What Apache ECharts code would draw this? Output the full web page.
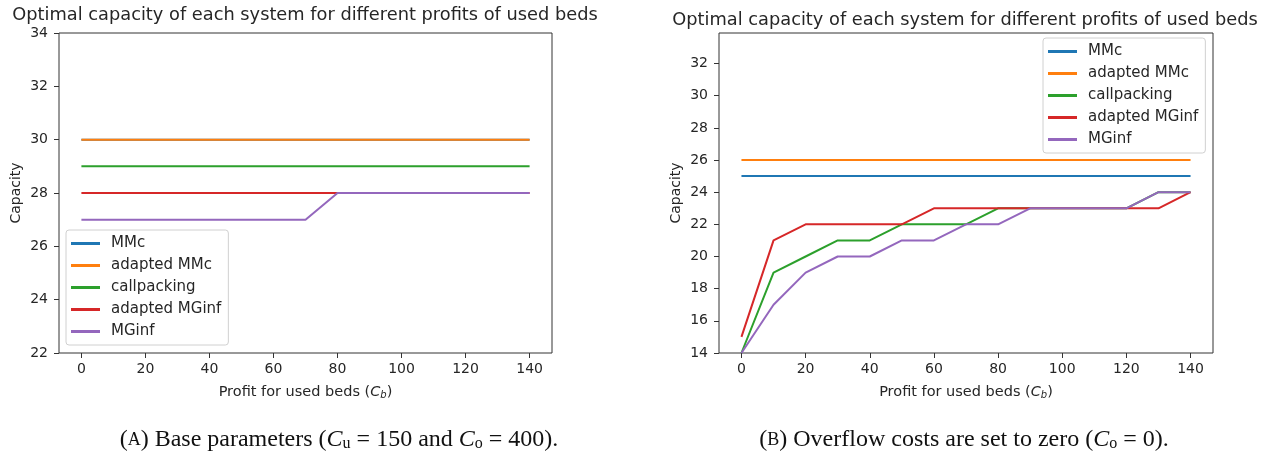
<!DOCTYPE html>
<html>
<head>
<meta charset="utf-8">
<script src="https://cdn.jsdelivr.net/npm/echarts@6/dist/echarts.min.js"></script>
<style>
  html, body { margin: 0; padding: 0; background: #fff; }
  #chart { width: 1277px; height: 457px; }
</style>
</head>
<body>
<div id="chart"></div>
<script>
// Profit for used beds (C_b) on the horizontal axis
const profits = [0, 10, 20, 30, 40, 50, 60, 70, 80, 90, 100, 110, 120, 130, 140];
const xTicks = [0, 20, 40, 60, 80, 100, 120, 140];
const systems = ['MMc', 'adapted MMc', 'callpacking', 'adapted MGinf', 'MGinf'];
const colors = ['#1f77b4', '#ff7f0e', '#2ca02c', '#d62728', '#9467bd'];

// (A) base parameters
const baseMMc          = [30, 30, 30, 30, 30, 30, 30, 30, 30, 30, 30, 30, 30, 30, 30];
const baseAdaptedMMc   = [30, 30, 30, 30, 30, 30, 30, 30, 30, 30, 30, 30, 30, 30, 30];
const baseCallpacking  = [29, 29, 29, 29, 29, 29, 29, 29, 29, 29, 29, 29, 29, 29, 29];
const baseAdaptedMGinf = [28, 28, 28, 28, 28, 28, 28, 28, 28, 28, 28, 28, 28, 28, 28];
const baseMGinf        = [27, 27, 27, 27, 27, 27, 27, 27, 28, 28, 28, 28, 28, 28, 28];
const baseYTicks = [22, 24, 26, 28, 30, 32, 34];

// (B) overflow costs set to zero
const zeroMMc          = [25, 25, 25, 25, 25, 25, 25, 25, 25, 25, 25, 25, 25, 25, 25];
const zeroAdaptedMMc   = [26, 26, 26, 26, 26, 26, 26, 26, 26, 26, 26, 26, 26, 26, 26];
const zeroCallpacking  = [14, 19, 20, 21, 21, 22, 22, 22, 23, 23, 23, 23, 23, 24, 24];
const zeroAdaptedMGinf = [15, 21, 22, 22, 22, 22, 23, 23, 23, 23, 23, 23, 23, 23, 24];
const zeroMGinf        = [14, 17, 19, 20, 20, 21, 21, 22, 22, 23, 23, 23, 23, 24, 24];
const zeroYTicks = [14, 16, 18, 20, 22, 24, 26, 28, 30, 32];

const sans = 'DejaVu Sans';
const serif = 'Liberation Serif';
const ink = '#262626';
const frame = '#333333';
const panelTitle = 'Optimal capacity of each system for different profits of used beds';

const baseSets = [baseMMc, baseAdaptedMMc, baseCallpacking, baseAdaptedMGinf, baseMGinf];
const zeroSets = [zeroMMc, zeroAdaptedMMc, zeroCallpacking, zeroAdaptedMGinf, zeroMGinf];

function makeSeries(sets, axisIndex) {
  return sets.map((vals, i) => ({
    name: systems[i],
    type: 'line',
    xAxisIndex: axisIndex,
    yAxisIndex: axisIndex,
    data: profits.map((p, k) => [p, vals[k]]),
    showSymbol: false,
    symbol: 'none',
    silent: true,
    animation: false,
    lineStyle: { width: 2, color: colors[i] },
    itemStyle: { color: colors[i] }
  }));
}

const xName = 'Profit for used beds ({ci|C}{cs|b})';
const xNameStyle = {
  fontFamily: sans, fontSize: 14.5, color: ink,
  rich: {
    ci: { fontFamily: sans, fontSize: 14.5, fontStyle: 'italic', color: ink },
    cs: { fontFamily: sans, fontSize: 10, fontStyle: 'italic', color: ink, padding: [5, 0, 0, 0] }
  }
};

function xAxis(gridIndex) {
  return {
    type: 'value', gridIndex, min: -7, max: 147,
    name: xName, nameLocation: 'middle', nameGap: 32, nameTextStyle: xNameStyle,
    axisLine: { show: false, onZero: false },
    axisTick: { show: true, length: 5, lineStyle: { color: frame }, customValues: xTicks },
    axisLabel: { fontFamily: sans, fontSize: 14, color: ink, margin: 9, customValues: xTicks },
    splitLine: { show: false }
  };
}

function yAxis(gridIndex, min, max, ticks) {
  return {
    type: 'value', gridIndex, min, max,
    name: 'Capacity', nameLocation: 'middle', nameGap: 36,
    nameTextStyle: { fontFamily: sans, fontSize: 14, color: ink },
    axisLine: { show: false, onZero: false },
    axisTick: { show: true, length: 5, lineStyle: { color: frame }, customValues: ticks },
    axisLabel: { fontFamily: sans, fontSize: 14, color: ink, margin: 11, customValues: ticks },
    splitLine: { show: false }
  };
}

function legend(pos) {
  return Object.assign({
    data: systems,
    orient: 'vertical',
    icon: 'rect',
    itemWidth: 29,
    itemHeight: 3,
    itemGap: 5,
    padding: [5, 7, 5, 5],
    backgroundColor: 'rgba(255,255,255,0.8)',
    borderColor: '#d0d0d0',
    borderWidth: 1,
    borderRadius: 3,
    selectedMode: false,
    textStyle: { fontFamily: sans, fontSize: 15, color: ink, lineHeight: 17, padding: [0, 0, 0, 6] }
  }, pos);
}

const capBase = { fontFamily: serif, fontWeight: 'normal', color: '#111' };
const capRich = {
  r:  Object.assign({ fontSize: 24 }, capBase),
  sc: Object.assign({ fontSize: 18 }, capBase),
  it: Object.assign({ fontSize: 24, fontStyle: 'italic' }, capBase),
  sb: Object.assign({ fontSize: 16, padding: [8, 0, 0, 0] }, capBase)
};

const chart = echarts.init(document.getElementById('chart'), null, { renderer: 'canvas' });
chart.setOption({
  animation: false,
  backgroundColor: '#fff',
  color: colors,
  title: [
    { text: panelTitle, left: 300, top: 1, textAlign: 'center',
      textStyle: { fontFamily: sans, fontSize: 17.8, fontWeight: 'normal', color: ink } },
    { text: panelTitle, left: 960, top: 6, textAlign: 'center',
      textStyle: { fontFamily: sans, fontSize: 17.8, fontWeight: 'normal', color: ink } },
    { text: '{r|(}{sc|A}{r|) Base parameters (}{it|C}{sb|u}{r| = 150 and }{it|C}{sb|o}{r| = 400).}',
      left: 334, top: 423, textAlign: 'center', textStyle: { fontWeight: 'normal', rich: capRich } },
    { text: '{r|(}{sc|B}{r|) Overflow costs are set to zero (}{it|C}{sb|o}{r| = 0).}',
      left: 959, top: 423, textAlign: 'center', textStyle: { fontWeight: 'normal', rich: capRich } }
  ],
  grid: [
    { left: 59, top: 33, width: 493, height: 320, show: true, borderColor: frame, borderWidth: 1, backgroundColor: 'transparent' },
    { left: 719, top: 33, width: 494, height: 320, show: true, borderColor: frame, borderWidth: 1, backgroundColor: 'transparent' }
  ],
  xAxis: [xAxis(0), xAxis(1)],
  yAxis: [yAxis(0, 22, 34, baseYTicks), yAxis(1, 14, 33.9, zeroYTicks)],
  legend: [
    legend({ left: 66, top: 230 }),
    legend({ left: 1043, top: 38 })
  ],
  series: makeSeries(baseSets, 0).concat(makeSeries(zeroSets, 1))
});
</script>
</body>
</html>
